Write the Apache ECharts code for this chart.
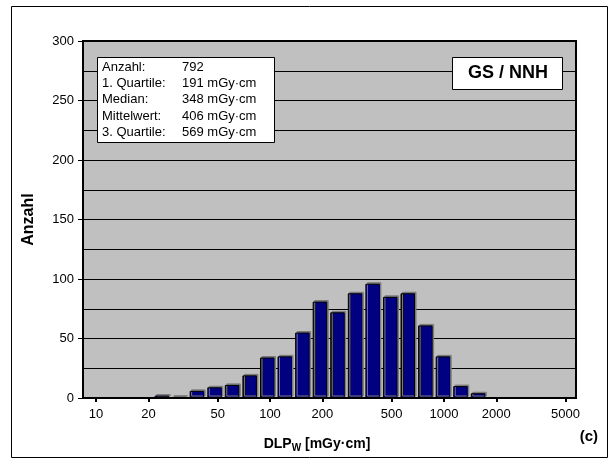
<!DOCTYPE html>
<html lang="de">
  <head>
    <meta charset="UTF-8" />
    <title>DLPw Histogramm GS / NNH</title>
    <script src="https://cdn.jsdelivr.net/npm/echarts@6/dist/echarts.min.js"></script>
    <style>
      html, body { margin: 0; padding: 0; background: #fff; }
      #main { width: 615px; height: 464px; }
    </style>
  </head>
  <body>
    <div id="main"></div>

    <script>
      // Klassenmitten (mGy·cm), logarithmische Klassen
      var binCenters = [23.9, 30.1, 38.0, 48.0, 60.5, 76.4, 96.4, 121.6, 153.5, 193.6,
                        244.3, 308.3, 389.0, 490.9, 619.4, 781.6, 986.3, 1244.5, 1570.4];
      // Anzahl je Klasse
      var counts = [2, 1, 6, 9, 11, 19, 34, 35, 55, 81, 72, 88, 96, 85, 88, 61, 35, 10, 4];
      // Achsenbeschriftung x
      var xTicks = [10, 20, 50, 100, 200, 500, 1000, 2000, 5000];

      var statLabels = ["Anzahl:", "1. Quartile:", "Median:", "Mittelwert:", "3. Quartile:"];
      var statValues = ["792", "191 mGy·cm", "348 mGy·cm", "406 mGy·cm", "569 mGy·cm"];

      var font = "'Liberation Sans', Arial, sans-serif";
      var chart = echarts.init(document.getElementById("main"));

      var logTicks = xTicks.map(function (v) { return Math.log10(v); });

      var graphics = [
        { type: "rect", shape: { x: 11.5, y: 6.5, width: 596, height: 451 },
          style: { fill: "none", stroke: "#000", lineWidth: 1 }, z: 100 },
        { type: "rect", shape: { x: 97.5, y: 57.5, width: 177, height: 85 },
          style: { fill: "#fff", stroke: "#000", lineWidth: 1 }, z: 100 },
        { type: "rect", shape: { x: 452.5, y: 57.5, width: 110, height: 32 },
          style: { fill: "#fff", stroke: "#000", lineWidth: 1 }, z: 100 },
        { type: "text", x: 508, y: 73.5, z: 101,
          style: { text: "GS / NNH", font: "bold 18px " + font, fill: "#000",
                   textAlign: "center", textVerticalAlign: "middle" } },
        { type: "text", x: 598, y: 437, z: 101,
          style: { text: "(c)", font: "bold 15px " + font, fill: "#000",
                   textAlign: "right", textVerticalAlign: "middle" } },
        { type: "text", x: 317, y: 444, z: 101,
          style: {
            text: "{b|DLP}{s|W}{b| [mGy·cm]}",
            textAlign: "center", textVerticalAlign: "middle",
            rich: {
              b: { fontSize: 14, fontWeight: "bold", fontFamily: font, fill: "#000" },
              s: { fontSize: 10, fontWeight: "bold", fontFamily: font, fill: "#000", padding: [8, 0, 0, 0] }
            }
          } }
      ];
      statLabels.forEach(function (s, i) {
        var y = 67.5 + i * 16.2;
        graphics.push({
          type: "text", x: 102, y: y, z: 101,
          style: { text: s, font: "13px " + font, fill: "#000", textVerticalAlign: "middle" }
        });
        graphics.push({
          type: "text", x: 182, y: y, z: 101,
          style: { text: statValues[i], font: "13px " + font, fill: "#000", textVerticalAlign: "middle" }
        });
      });

      var option = {
        animation: false,
        backgroundColor: "#fff",
        textStyle: { fontFamily: font },
        grid: {
          left: 83, right: 39, top: 41, bottom: 66,
          show: true, backgroundColor: "#C0C0C0",
          borderColor: "#000", borderWidth: 2
        },
        xAxis: {
          type: "value",
          min: 0.925,
          max: 3.759,
          axisLine: { lineStyle: { color: "#000", width: 2 } },
          axisTick: { show: true, length: 4, customValues: logTicks, lineStyle: { color: "#000", width: 2 } },
          axisLabel: {
            customValues: logTicks,
            fontSize: 13, color: "#000", margin: 10,
            formatter: function (v) { return String(Math.round(Math.pow(10, v))); }
          },
          splitLine: { show: false }
        },
        yAxis: {
          type: "value",
          min: 0, max: 300, interval: 50,
          name: "Anzahl",
          nameLocation: "middle",
          nameGap: 46,
          nameTextStyle: { fontSize: 16, fontWeight: "bold", color: "#000" },
          axisLine: { show: true, lineStyle: { color: "#000", width: 2 } },
          axisTick: { show: true, length: 5, lineStyle: { color: "#000" } },
          axisLabel: { fontSize: 13, color: "#000", margin: 9 },
          splitLine: { show: true, lineStyle: { color: "#000", width: 1 } },
          minorTick: { show: false, splitNumber: 2 },
          minorSplitLine: { show: true, lineStyle: { color: "#000", width: 1 } }
        },
        series: [{
          type: "bar",
          barWidth: 14.5,
          data: binCenters.map(function (c, i) { return [Math.log10(c), counts[i]]; }),
          itemStyle: {
            color: "#000080", borderColor: "#000", borderWidth: 1,
            shadowColor: "#7a7a7a", shadowOffsetX: 1.5, shadowOffsetY: -1.5, shadowBlur: 0
          }
        }],
        graphic: graphics
      };

      chart.setOption(option);
    </script>
  </body>
</html>
